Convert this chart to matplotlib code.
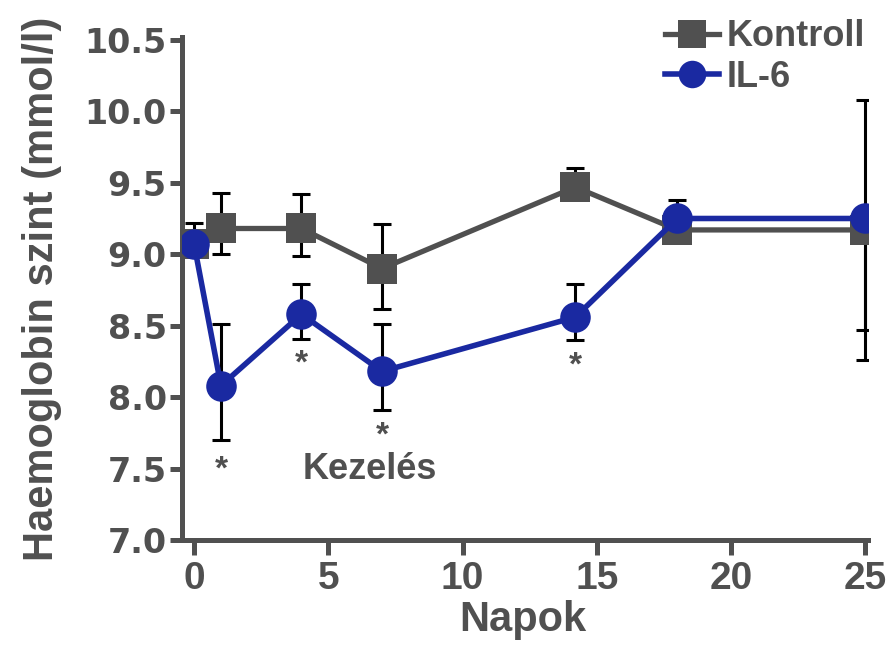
import matplotlib
matplotlib.use("Agg")
import matplotlib.pyplot as plt

# adatok (napok, átlag, hibák)
napok_kontroll = [0, 1, 4, 7, 14.2, 18, 25]
kontroll = [9.07, 9.18, 9.18, 8.90, 9.47, 9.17, 9.17]
kontroll_also = [0.0, 0.18, 0.19, 0.28, 0.0, 0.0, 0.91]
kontroll_felso = [0.15, 0.25, 0.24, 0.31, 0.13, 0.0, 0.91]

napok_il6 = [0, 1, 4, 7, 14.2, 18, 25]
il6 = [9.07, 8.08, 8.58, 8.18, 8.56, 9.25, 9.25]
il6_also = [0.0, 0.38, 0.17, 0.27, 0.16, 0.0, 0.78]
il6_felso = [0.0, 0.43, 0.21, 0.33, 0.23, 0.13, 0.0]

csillag_x = [1, 4, 7, 14.2]
csillag_y = [7.49, 8.23, 7.73, 8.22]

SZURKE = "#505050"
KEK = "#1a29a1"
BETU = "Liberation Sans"

fig = plt.figure(figsize=(8.94, 6.45), dpi=100)
ax = fig.add_axes([0.2036, 0.1628, 0.7673, 0.7798])

# hibasávok
ax.errorbar(napok_kontroll, kontroll, yerr=[kontroll_also, kontroll_felso],
            fmt="none", ecolor="black", elinewidth=2.2, capsize=6.5,
            capthick=2.2, zorder=1)
ax.errorbar(napok_il6, il6, yerr=[il6_also, il6_felso],
            fmt="none", ecolor="black", elinewidth=2.2, capsize=6.5,
            capthick=2.2, zorder=1)

ax.plot(napok_kontroll, kontroll, color=SZURKE, lw=3.8, marker="s",
        markersize=22, markeredgewidth=0, label="Kontroll", zorder=2)
ax.plot(napok_il6, il6, color=KEK, lw=4.0, marker="o",
        markersize=22, markeredgewidth=0, label="IL-6", zorder=3)

for x, y in zip(csillag_x, csillag_y):
    ax.text(x, y, "*", ha="center", va="center", fontsize=24,
            fontweight="bold", color=SZURKE, family=BETU)

ax.text(6.55, 7.49, "Kezelés", ha="center", va="center", fontsize=26,
        fontweight="bold", color=SZURKE, family=BETU)

ax.set_xlim(-0.45, 25.1)
ax.set_ylim(7.0, 10.52)
ax.set_xticks([0, 5, 10, 15, 20, 25])
ax.set_yticks([7.0, 7.5, 8.0, 8.5, 9.0, 9.5, 10.0, 10.5])
ax.set_yticklabels(["7.0", "7.5", "8.0", "8.5", "9.0", "9.5", "10.0", "10.5"])

for s in ["top", "right"]:
    ax.spines[s].set_visible(False)
for s in ["left", "bottom"]:
    ax.spines[s].set_linewidth(3.6)
    ax.spines[s].set_color(SZURKE)

ax.tick_params(axis="y", length=9, width=3.6, color=SZURKE, pad=2,
               labelsize=24, labelcolor=SZURKE)
ax.tick_params(axis="x", length=11, width=3.6, color=SZURKE, pad=4,
               labelsize=28, labelcolor=SZURKE)
for t in ax.get_yticklabels():
    t.set_fontweight("bold")
    t.set_family("DejaVu Sans")
for t in ax.get_xticklabels():
    t.set_fontweight("bold")
    t.set_family(BETU)

ax.set_xlabel("Napok", fontsize=30, fontweight="bold", color=SZURKE, family=BETU)
ax.set_ylabel("Haemoglobin szint (mmol/l)", fontsize=30, fontweight="bold",
              color=SZURKE, family=BETU)
ax.xaxis.set_label_coords(0.497, -0.12)
ax.yaxis.set_label_coords(-0.175, 0.5)

leg = ax.legend(loc="upper left", bbox_to_anchor=(0.744, 0.97),
                bbox_transform=fig.transFigure, frameon=False,
                prop={"family": BETU, "weight": "bold", "size": 26},
                handlelength=1.5, handletextpad=0.2, labelspacing=0.15,
                borderpad=0, borderaxespad=0, markerscale=0.9)
for t in leg.get_texts():
    t.set_color(SZURKE)

fig.savefig("out.png", dpi=100)
